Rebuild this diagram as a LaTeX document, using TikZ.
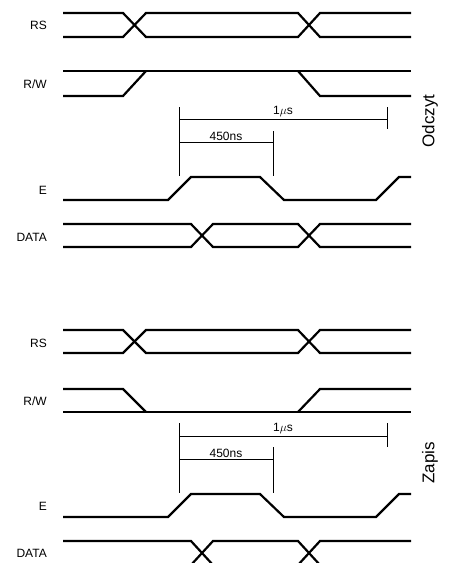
\documentclass[tikz,border=0pt]{standalone}
\usepackage{fontspec}
\setmainfont{Liberation Sans}
\begin{document}
\begin{tikzpicture}[x=1pt,y=-1pt,
  sig/.style={line width=2.2pt},
  dim/.style={line width=0.9pt},
  lbl/.style={anchor=east,inner sep=0pt,font=\fontsize{12}{14}\selectfont},
  dimlbl/.style={anchor=south,inner sep=1.5pt,font=\fontsize{12}{14}\selectfont},
  side/.style={rotate=90,inner sep=0pt,font=\fontsize{17}{19}\selectfont}]
\useasboundingbox (0,0) rectangle (458,563);
\clip (0,0) rectangle (458,563);

% ---------------- Odczyt ----------------
% RS
\node[lbl] (rs1) at (47,25) {RS};
\draw[sig] (63,13) -- (123,13) -- (146,37) -- (298,37) -- (320,13) -- (411,13);
\draw[sig] (63,37) -- (123,37) -- (146,13) -- (298,13) -- (320,37) -- (411,37);
% R/W
\node[lbl] (rw1) at (47,84) {R/W};
\draw[sig] (63,71) -- (411,71);
\draw[sig] (63,96) -- (123,96) -- (146,71);
\draw[sig] (298,71) -- (320,96) -- (411,96);
% timing
\coordinate (a1) at (179,107);
\coordinate (a2) at (179,176);
\coordinate (b1) at (387,107);
\coordinate (b2) at (387,129);
\coordinate (c1) at (273,131);
\coordinate (c2) at (273,176);
\draw[dim] (a1) -- (a2);
\draw[dim] (b1) -- (b2);
\draw[dim] (c1) -- (c2);
\coordinate (u1) at (179,119);
\coordinate (u2) at (387,119);
\draw[dim] (u1) -- (u2);
\node[dimlbl] (us1) at (283,119) {1$\mu$s};
\coordinate (n1) at (179,142);
\coordinate (n2) at (273,142);
\draw[dim] (n1) -- (n2);
\node[dimlbl] (ns1) at (226,142) {450ns};
\node[side] (odczyt) at (430,121) {Odczyt};
% E
\node[lbl] (e1) at (47,190) {E};
\draw[sig] (63,200) -- (168,200) -- (191,177) -- (260,177) -- (284,200) -- (376,200) -- (399,177) -- (411,177);
% DATA
\node[lbl] (d1) at (47,237) {DATA};
\draw[sig] (63,224) -- (191,224) -- (213,247) -- (298,247) -- (320,224) -- (411,224);
\draw[sig] (63,247) -- (191,247) -- (213,224) -- (298,224) -- (320,247) -- (411,247);

% ---------------- Zapis ----------------
% RS
\node[lbl] (rs2) at (47,343) {RS};
\draw[sig] (63,330) -- (123,330) -- (146,353) -- (298,353) -- (320,330) -- (411,330);
\draw[sig] (63,353) -- (123,353) -- (146,330) -- (298,330) -- (320,353) -- (411,353);
% R/W
\node[lbl] (rw2) at (47,401) {R/W};
\draw[sig] (63,412) -- (411,412);
\draw[sig] (63,389) -- (123,389) -- (146,412);
\draw[sig] (298,412) -- (320,389) -- (411,389);
% timing
\coordinate (a3) at (179,423);
\coordinate (a4) at (179,493);
\coordinate (b3) at (387,423);
\coordinate (b4) at (387,447);
\coordinate (c3) at (273,447);
\coordinate (c4) at (273,493);
\draw[dim] (a3) -- (a4);
\draw[dim] (b3) -- (b4);
\draw[dim] (c3) -- (c4);
\coordinate (u3) at (179,436);
\coordinate (u4) at (387,436);
\draw[dim] (u3) -- (u4);
\node[dimlbl] (us2) at (283,436) {1$\mu$s};
\coordinate (n3) at (179,459);
\coordinate (n4) at (273,459);
\draw[dim] (n3) -- (n4);
\node[dimlbl] (ns2) at (226,459) {450ns};
\node[side] (zapis) at (430,463) {Zapis};
% E
\node[lbl] (e2) at (47,506) {E};
\draw[sig] (63,517) -- (168,517) -- (191,494) -- (260,494) -- (284,517) -- (376,517) -- (399,494) -- (411,494);
% DATA
\node[lbl] (d2) at (47,553) {DATA};
\draw[sig] (63,541) -- (191,541) -- (213,565) -- (298,565) -- (320,541) -- (411,541);
\draw[sig] (63,565) -- (191,565) -- (213,541) -- (298,541) -- (320,565) -- (411,565);
\end{tikzpicture}
\end{document}
